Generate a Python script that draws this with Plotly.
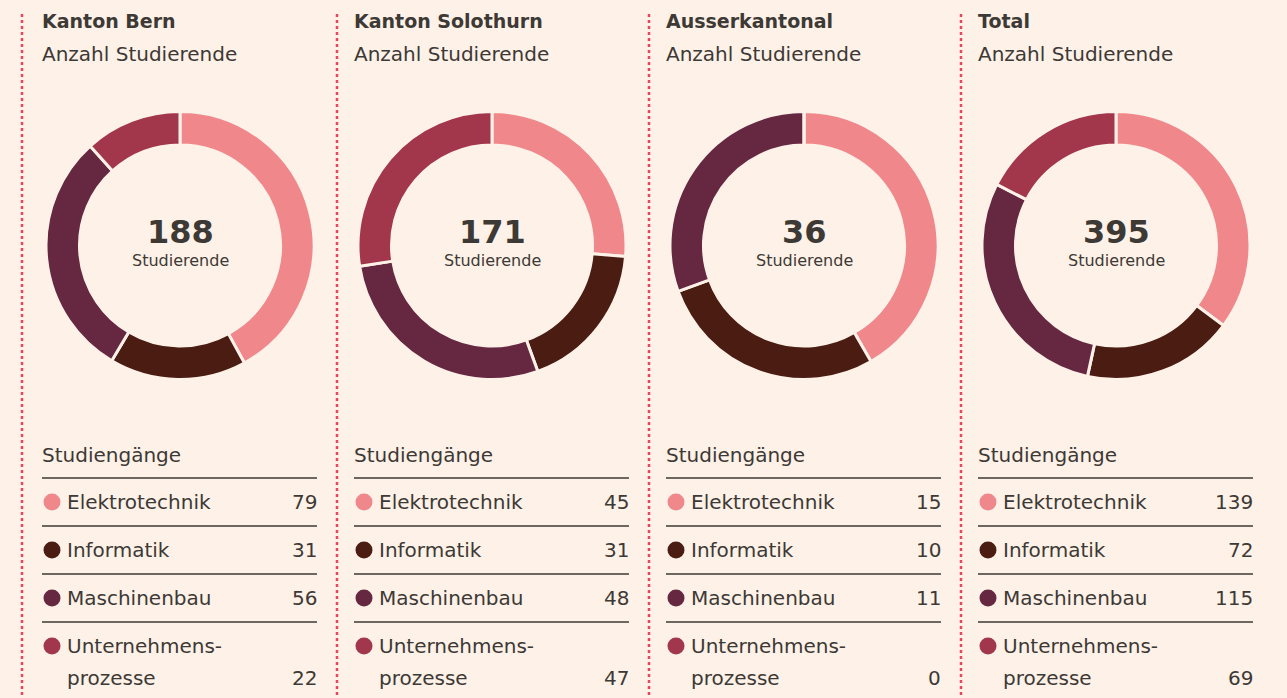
import plotly.graph_objects as go

regions = ["Kanton Bern", "Kanton Solothurn", "Ausserkantonal", "Total"]
programs = ["Elektrotechnik", "Informatik", "Maschinenbau", "Unternehmens-<br>prozesse"]
bern = [79, 31, 56, 22]
solothurn = [45, 31, 48, 47]
ausserkantonal = [15, 10, 11, 0]
total = [139, 72, 115, 69]
colors = ["#f0878b", "#4a1c12", "#662741", "#a2364a"]

W, H = 1287, 698
BG = "#fef1e8"
INK = "#3d3935"
FONT = "DejaVu Sans"

col_x0 = [42, 354, 666, 978]
sep_x = [22, 337, 649, 961]
col_w = 275
series = [bern, solothurn, ausserkantonal, total]

fig = go.Figure()
annotations = []
shapes = []


def label(x, y, text, size=20, anchor="left"):
    # annotations carry ~2px padding, nudge so the glyphs sit where the reference has them
    dx = -2 if anchor == "left" else (2 if anchor == "right" else 0)
    annotations.append(dict(x=x + dx, y=y, text=text, xanchor=anchor,
                            font=dict(size=size, color=INK)))


for i, (name, vals) in enumerate(zip(regions, series)):
    x0 = col_x0[i]
    cx = x0 + 138
    r = 134
    fig.add_trace(go.Pie(
        values=vals,
        labels=[p.replace("<br>", "") for p in programs],
        hole=0.75,
        sort=False,
        direction="clockwise",
        rotation=0,
        marker=dict(colors=colors, line=dict(color=BG, width=3)),
        textinfo="none",
        hoverinfo="label+value",
        showlegend=False,
        domain=dict(x=[(cx - r) / W, (cx + r) / W], y=[1 - 380 / H, 1 - 111 / H]),
    ))
    # header
    label(x0, 21, f"<b>{name}</b>", size=19)
    label(x0, 54, "Anzahl Studierende")
    # center text
    label(cx, 232, f"<b>{sum(vals)}</b>", size=32, anchor="center")
    label(cx, 260, "Studierende", size=16, anchor="center")
    # table
    label(x0, 455, "Studiengänge")
    for y in [478, 526, 574, 622]:
        shapes.append(dict(type="line", xref="x", yref="y", x0=x0, x1=x0 + col_w,
                           y0=y, y1=y, line=dict(color=INK, width=1.5)))
    row_y = [502, 550, 598, 646]
    for j, (prog, v) in enumerate(zip(programs, vals)):
        y = row_y[j]
        lines = prog.split("<br>")
        for k, part in enumerate(lines):
            label(x0 + 25, y + 32 * k, part)
        label(x0 + col_w, y + 32 * (len(lines) - 1), str(v), anchor="right")
    fig.add_trace(go.Scatter(
        x=[x0 + 10] * 4, y=row_y, mode="markers",
        marker=dict(size=17, color=colors), hoverinfo="skip", showlegend=False,
        xaxis="x", yaxis="y",
    ))

for sx in sep_x:
    shapes.append(dict(type="line", xref="x", yref="y", x0=sx, x1=sx, y0=14, y1=H,
                       line=dict(color="#e8455e", width=2.5, dash="dot")))

for a in annotations:
    a.update(xref="x", yref="y", showarrow=False, yanchor="middle")

fig.update_layout(
    width=W, height=H,
    margin=dict(l=0, r=0, t=0, b=0),
    paper_bgcolor=BG, plot_bgcolor=BG,
    font=dict(family=FONT, color=INK),
    xaxis=dict(range=[0, W], visible=False, fixedrange=True),
    yaxis=dict(range=[H, 0], visible=False, fixedrange=True),
    annotations=annotations,
    shapes=shapes,
)

fig.write_html(
    "out.html",
    config={"displayModeBar": False},
    post_script="document.body.style.margin='0';document.body.style.overflow='hidden';",
)
